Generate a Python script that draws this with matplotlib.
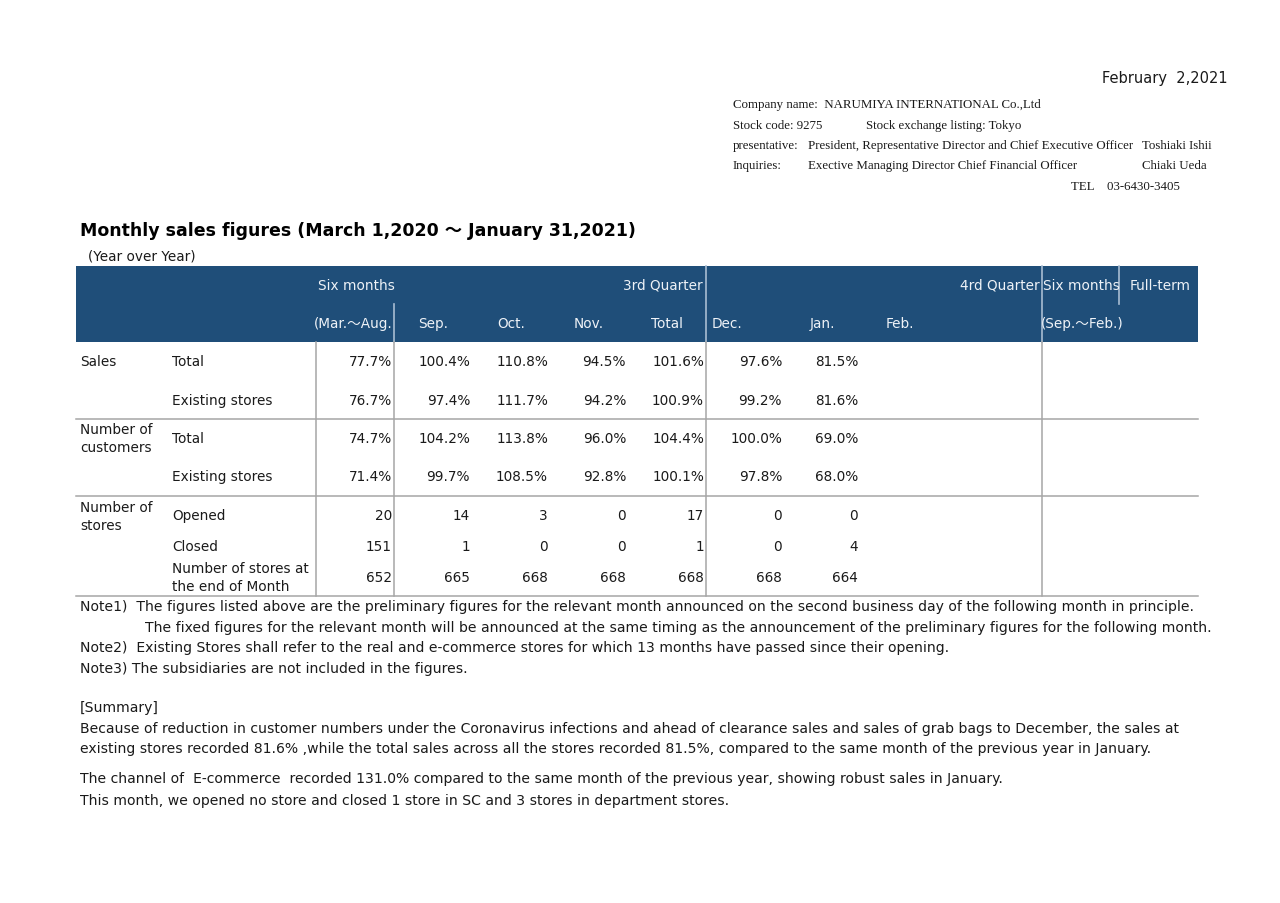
import matplotlib
matplotlib.use('agg')
import matplotlib.pyplot as plt
from matplotlib.patches import Rectangle

plt.rcParams['font.family'] = ['DejaVu Sans', 'Noto Sans CJK JP']

# ---- data ----
date_text = "February  2,2021"
title = "Monthly sales figures (March 1,2020 ～ January 31,2021)"
subtitle = "(Year over Year)"

col_labels = ["(Mar.～Aug.", "Sep.", "Oct.", "Nov.", "Total", "Dec.", "Jan.", "Feb."]
group_labels = ["Six months", "3rd Quarter", "4rd Quarter", "Six months", "Full-term"]

sales_total = [77.7, 100.4, 110.8, 94.5, 101.6, 97.6, 81.5]
sales_existing = [76.7, 97.4, 111.7, 94.2, 100.9, 99.2, 81.6]
cust_total = [74.7, 104.2, 113.8, 96.0, 104.4, 100.0, 69.0]
cust_existing = [71.4, 99.7, 108.5, 92.8, 100.1, 97.8, 68.0]
stores_opened = [20, 14, 3, 0, 17, 0, 0]
stores_closed = [151, 1, 0, 0, 1, 0, 4]
stores_end = [652, 665, 668, 668, 668, 668, 664]

row_groups = ["Sales", "Number of\ncustomers", "Number of\nstores"]
row_labels = ["Total", "Existing stores", "Total", "Existing stores",
              "Opened", "Closed", "Number of stores at\nthe end of Month"]

company_lines = [
    ["Company name:  NARUMIYA INTERNATIONAL Co.,Ltd"],
    ["Stock code: 9275", "Stock exchange listing: Tokyo"],
    ["presentative:", "President, Representative Director and Chief Executive Officer", "Toshiaki Ishii"],
    ["Inquiries:", "Exective Managing Director Chief Financial Officer", "Chiaki Ueda"],
]
tel_text = "TEL    03-6430-3405"

notes = [
    "Note1)  The figures listed above are the preliminary figures for the relevant month announced on the second business day of the following month in principle.",
    "The fixed figures for the relevant month will be announced at the same timing as the announcement of the preliminary figures for the following month.",
    "Note2)  Existing Stores shall refer to the real and e-commerce stores for which 13 months have passed since their opening.",
    "Note3) The subsidiaries are not included in the figures.",
]
summary = [
    "[Summary]",
    "Because of reduction in customer numbers under the Coronavirus infections and ahead of clearance sales and sales of grab bags to December, the sales at",
    "existing stores recorded 81.6% ,while the total sales across all the stores recorded 81.5%, compared to the same month of the previous year in January.",
    "The channel of  E-commerce  recorded 131.0% compared to the same month of the previous year, showing robust sales in January.",
    "This month, we opened no store and closed 1 store in SC and 3 stores in department stores.",
]

# ---- layout ----
fig = plt.figure(figsize=(12.8, 9.04), dpi=100)
ax = fig.add_axes([0, 0, 1, 1])
ax.set_xlim(0, 1280)
ax.set_ylim(904, 0)
ax.axis('off')

txt = '#1a1a1a'
grid = '#a6a6a6'
hdr = '#1f4e79'
hdr_txt = '#eef2f7'
hdr_line = '#a9bdd3'
fs = 9.8
fs_note = 10.05

ax.text(1228, 78, date_text, ha='right', va='center', fontsize=10.5, color=txt)

serif = 'Liberation Serif'
sfs = 9.3
ax.text(733, 105, company_lines[0][0], ha='left', va='center', fontsize=sfs, family=serif, color=txt)
ax.text(733, 126, company_lines[1][0], ha='left', va='center', fontsize=sfs, family=serif, color=txt)
ax.text(866, 126, company_lines[1][1], ha='left', va='center', fontsize=sfs, family=serif, color=txt)
for y, line in zip([146, 166], company_lines[2:]):
    for x, s in zip([733, 808, 1142], line):
        ax.text(x, y, s, ha='left', va='center', fontsize=sfs, family=serif, color=txt)
ax.text(1071, 187, tel_text, ha='left', va='center', fontsize=sfs, family=serif, color=txt)

ax.text(80, 231, title, ha='left', va='center', fontsize=12.5, fontweight='bold', color='black')
ax.text(88, 257, subtitle, ha='left', va='center', fontsize=fs, color=txt)

# header band
left, right = 76, 1198
ax.add_patch(Rectangle((left, 267), right - left, 76, color=hdr, lw=0))
for x, y0, y1 in [(394, 305, 343), (706, 267, 343), (1042, 267, 343), (1119, 267, 305)]:
    ax.plot([x, x], [y0, y1], color=hdr_line, lw=1.2)

group_pos = [(395, 'right'), (703, 'right'), (1040, 'right'), (1043, 'left'), (1191, 'right')]
for (x, ha), s in zip(group_pos, group_labels):
    ax.text(x, 286, s, ha=ha, va='center', fontsize=fs, color=hdr_txt)

col_pos = [(393, 'right'), (433, 'center'), (511, 'center'), (589, 'center'), (667, 'center'),
           (727, 'center'), (822, 'center'), (900, 'center')]
for (x, ha), s in zip(col_pos, col_labels):
    ax.text(x, 324, s, ha=ha, va='center', fontsize=fs, color=hdr_txt)
ax.text(1082, 324, "(Sep.～Feb.)", ha='center', va='center', fontsize=fs, color=hdr_txt)

# body grid
for y in [420, 497, 597]:
    ax.plot([left, right], [y, y], color=grid, lw=1.1)
for x in [316, 394, 706, 1042]:
    ax.plot([x, x], [343, 597], color=grid, lw=1.1)

# body values
col_right = [392, 470, 548, 626, 704, 782, 858]
row_y = [362, 401, 439, 477, 516, 547, 578]
rows = [
    ["{:.1f}%".format(v) for v in sales_total],
    ["{:.1f}%".format(v) for v in sales_existing],
    ["{:.1f}%".format(v) for v in cust_total],
    ["{:.1f}%".format(v) for v in cust_existing],
    [str(v) for v in stores_opened],
    [str(v) for v in stores_closed],
    [str(v) for v in stores_end],
]
for y, vals in zip(row_y, rows):
    for x, s in zip(col_right, vals):
        ax.text(x, y, s, ha='right', va='center', fontsize=fs, color=txt)

for y, s in zip(row_y, row_labels):
    ax.text(172, y, s, ha='left', va='center', fontsize=fs, color=txt, linespacing=1.45)

for y, s in zip([362, 439, 517], row_groups):
    ax.text(80, y, s, ha='left', va='center', fontsize=fs, color=txt, linespacing=1.45)

# notes and summary
for x, y, s in zip([80, 145, 80, 80], [607, 628, 648, 669], notes):
    ax.text(x, y, s, ha='left', va='center', fontsize=fs_note, color=txt)
for y, s in zip([708, 729, 749, 779, 801], summary):
    ax.text(80, y, s, ha='left', va='center', fontsize=fs_note, color=txt)

fig.savefig('out.png', dpi=100, facecolor='white')
plt.close(fig)
